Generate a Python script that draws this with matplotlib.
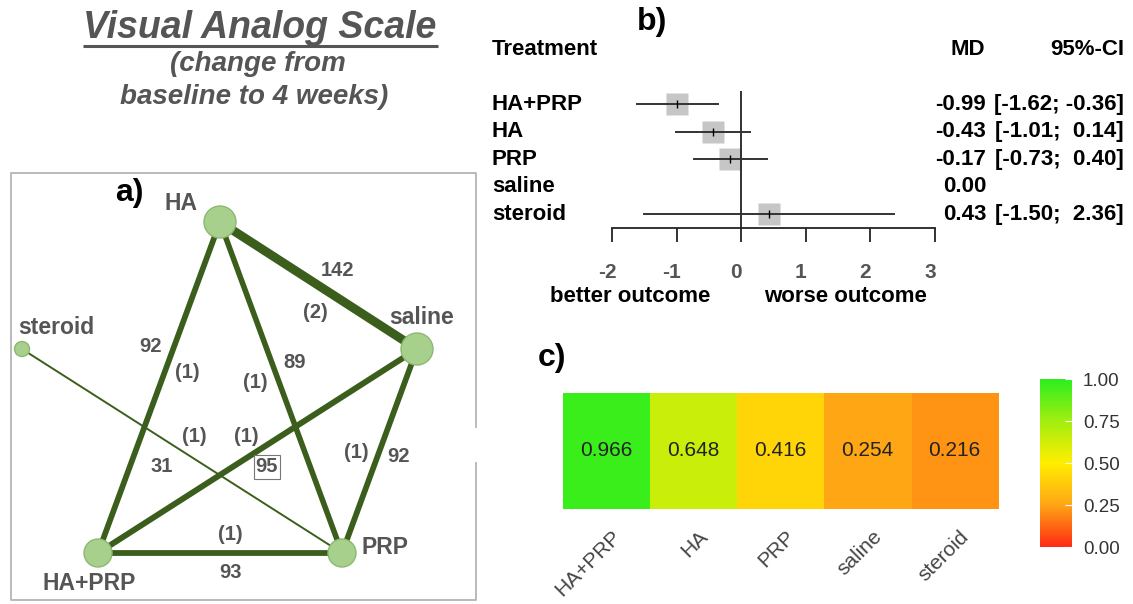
import numpy as np
import matplotlib
matplotlib.use("Agg")
import matplotlib.pyplot as plt
from matplotlib.patches import Circle
from matplotlib.colors import LinearSegmentedColormap
from matplotlib.transforms import ScaledTranslation

plt.rcParams['font.family'] = ['Liberation Sans', 'DejaVu Sans']

W, H = 1133, 604
GREY = "#555555"

# ---- panel a : network ----
nodes = ["HA", "saline", "steroid", "HA+PRP", "PRP"]
edges = [("HA", "saline"), ("HA", "HA+PRP"), ("HA", "PRP"), ("HA+PRP", "saline"),
         ("saline", "PRP"), ("steroid", "PRP"), ("HA+PRP", "PRP")]
edge_patients = [142, 92, 89, 95, 92, 31, 93]
edge_studies = [2, 1, 1, 1, 1, 1, 1]

# layout (pixels)
node_pos = {"HA": (220, 222), "saline": (417, 349), "steroid": (22, 349),
            "HA+PRP": (98, 553), "PRP": (342, 553)}
node_r = {"HA": 16, "saline": 16, "steroid": 7.5, "HA+PRP": 14, "PRP": 14}
node_lab = {"HA": (181, 203), "saline": (422, 318), "steroid": (56, 327),
            "HA+PRP": (89, 583), "PRP": (385, 547)}
n_lab = [(337, 270), (151, 347), (295, 363), (267, 467), (398, 457), (162, 467), (230, 573)]
k_lab = [(315, 312), (187, 372), (255, 382), (246, 437), (356, 452), (194, 437), (230, 535)]

# ---- panel b : forest ----
treat = ["HA+PRP", "HA", "PRP", "saline", "steroid"]
md = [-0.99, -0.43, -0.17, 0.00, 0.43]
ci_lo = [-1.62, -1.01, -0.73, np.nan, -1.50]
ci_hi = [-0.36, 0.14, 0.40, np.nan, 2.36]
xticks_b = [-2, -1, 0, 1, 2, 3]

# ---- panel c : heatmap ----
prob = [0.966, 0.648, 0.416, 0.254, 0.216]
cbar_ticks = [0.0, 0.25, 0.5, 0.75, 1.0]

fig = plt.figure(figsize=(W / 100, H / 100), dpi=100)
ax0 = fig.add_axes([0, 0, 1, 1])
ax0.set_xlim(0, W)
ax0.set_ylim(H, 0)
ax0.axis("off")

# title
ax0.text(260, 28, "Visual Analog Scale", fontsize=27, fontweight="bold", style="italic",
         color=GREY, ha="center", va="center")
ax0.plot([83, 438], [46, 46], color=GREY, lw=2.2, solid_capstyle="butt")
ax0.text(258, 64, "(change from", fontsize=20, fontweight="bold", style="italic",
         color=GREY, ha="center", va="center")
ax0.text(254, 97, "baseline to 4 weeks)", fontsize=20, fontweight="bold", style="italic",
         color=GREY, ha="center", va="center")

# frame of panel a (open on the right side)
ax0.plot([476, 476, 11, 11, 476, 476], [427, 173, 173, 600, 600, 463], color="#b4b4b4", lw=1.3)

for (a, b), n in zip(edges, edge_patients):
    (x1, y1), (x2, y2) = node_pos[a], node_pos[b]
    ax0.plot([x1, x2], [y1, y2], color="#3b5e1d", lw=n / 16 * 0.72,
             solid_capstyle="butt", zorder=2)
for nd in nodes:
    ax0.add_patch(Circle(node_pos[nd], node_r[nd], facecolor="#a8d08d",
                         edgecolor="#8cb872", lw=1, zorder=3))
    ax0.text(*node_lab[nd], nd, fontsize=16.5, fontweight="bold", color=GREY,
             ha="center", va="center")
for i, n in enumerate(edge_patients):
    bb = dict(boxstyle="square,pad=0.1", fc="none", ec="#777777", lw=0.8) if n == 95 else None
    ax0.text(*n_lab[i], str(n), fontsize=14.5, fontweight="bold", color=GREY,
             ha="center", va="center", bbox=bb, zorder=4)
    ax0.text(*k_lab[i], "(%d)" % edge_studies[i], fontsize=14.5, fontweight="bold",
             color=GREY, ha="center", va="center", zorder=4)
ax0.text(129, 193, "a)", fontsize=23, fontweight="bold", color="black", ha="center", va="center")
ax0.text(652, 22, "b)", fontsize=23, fontweight="bold", color="black", ha="center", va="center")
ax0.text(552, 358, "c)", fontsize=23, fontweight="bold", color="black", ha="center", va="center")

# ---- forest plot ----
axb = fig.add_axes([612 / W, 1 - 228 / H, 323 / W, 137 / H])
rows = np.arange(len(treat))
axb.set_xlim(-2, 3)
axb.set_ylim(4.51, -0.485)
for s in ["top", "right", "left"]:
    axb.spines[s].set_visible(False)
axb.spines["bottom"].set_linewidth(1.3)
axb.spines["bottom"].set_color("#222222")
axb.set_yticks([])
axb.set_xticks(xticks_b)
axb.set_xticklabels([str(t) for t in xticks_b], fontsize=15, fontweight="bold", color=GREY)
axb.tick_params(axis="x", length=10, width=1.3, color="#222222", pad=15)
for lbl in axb.get_xticklabels():
    lbl.set_transform(lbl.get_transform() + ScaledTranslation(-0.05, 0, fig.dpi_scale_trans))
axb.axvline(0, color="#222222", lw=1.3)
axb.patch.set_alpha(0)
for i in rows:
    if not np.isnan(ci_lo[i]):
        axb.plot([ci_lo[i], ci_hi[i]], [i, i], color="#333333", lw=1.4, zorder=2)
        axb.plot(md[i], i, marker="s", ms=16, color="#c6c6c6", mec="none", zorder=1)
        axb.plot(md[i], i, marker="|", ms=6, color="black", mew=1, zorder=3)
tr = axb.get_yaxis_transform()
fx = lambda px: (px - 612) / 323
for i in rows:
    axb.text(fx(492), i, treat[i], transform=tr, fontsize=16, fontweight="bold",
             ha="left", va="center", clip_on=False)
    axb.text(fx(986), i, "%.2f" % md[i], transform=tr, fontsize=16, fontweight="bold",
             ha="right", va="center", clip_on=False)
    if not np.isnan(ci_lo[i]):
        axb.text(fx(1124), i, "[%.2f; %5.2f]" % (ci_lo[i], ci_hi[i]), transform=tr,
                 fontsize=16, fontweight="bold", ha="right", va="center", clip_on=False)
axb.text(fx(492), -1.98, "Treatment", transform=tr, fontsize=16, fontweight="bold",
         ha="left", va="center", clip_on=False)
axb.text(fx(985), -1.98, "MD", transform=tr, fontsize=16, fontweight="bold",
         ha="right", va="center", clip_on=False)
axb.text(fx(1124), -1.98, "95%-CI", transform=tr, fontsize=16, fontweight="bold",
         ha="right", va="center", clip_on=False)
axb.text(-1.72, -0.5, "better outcome", transform=axb.get_xaxis_transform(), fontsize=16,
         fontweight="bold", ha="center", va="center", clip_on=False)
axb.text(1.62, -0.5, "worse outcome", transform=axb.get_xaxis_transform(), fontsize=16,
         fontweight="bold", ha="center", va="center", clip_on=False)

# ---- heatmap ----
cmap = LinearSegmentedColormap.from_list(
    "ryg", [(0, "#ff2a14"), (0.25, "#ffa515"), (0.5, "#ffee00"), (0.75, "#a2ee10"), (1, "#2cee1e")])
axc = fig.add_axes([562.7 / W, 1 - 509 / H, 435.3 / W, 116 / H])
im = axc.imshow(np.array([prob]), cmap=cmap, vmin=0, vmax=1, aspect="auto")
for j, p in enumerate(prob):
    axc.text(j, 0, "%.3f" % p, fontsize=15, color="#222222", ha="center", va="center")
axc.set_yticks([])
axc.set_xticks(range(len(treat)))
axc.set_xticklabels(treat, rotation=45, ha="right", rotation_mode="anchor",
                    fontsize=15, color="#444444")
axc.tick_params(axis="x", length=0, pad=13)
for lbl in axc.get_xticklabels():
    lbl.set_transform(lbl.get_transform() + ScaledTranslation(0.05, 0, fig.dpi_scale_trans))
for s in axc.spines.values():
    s.set_visible(False)

cax = fig.add_axes([1040 / W, 1 - 547 / H, 32 / W, 168 / H])
cb = fig.colorbar(im, cax=cax, ticks=cbar_ticks)
cb.outline.set_visible(False)
cb.ax.set_yticklabels(["%.2f" % t for t in cbar_ticks], fontsize=13.5, color="#333333")
cb.ax.tick_params(length=5, color="white", width=0.8, direction="in", pad=8)

fig.savefig("out.png", dpi=100)
